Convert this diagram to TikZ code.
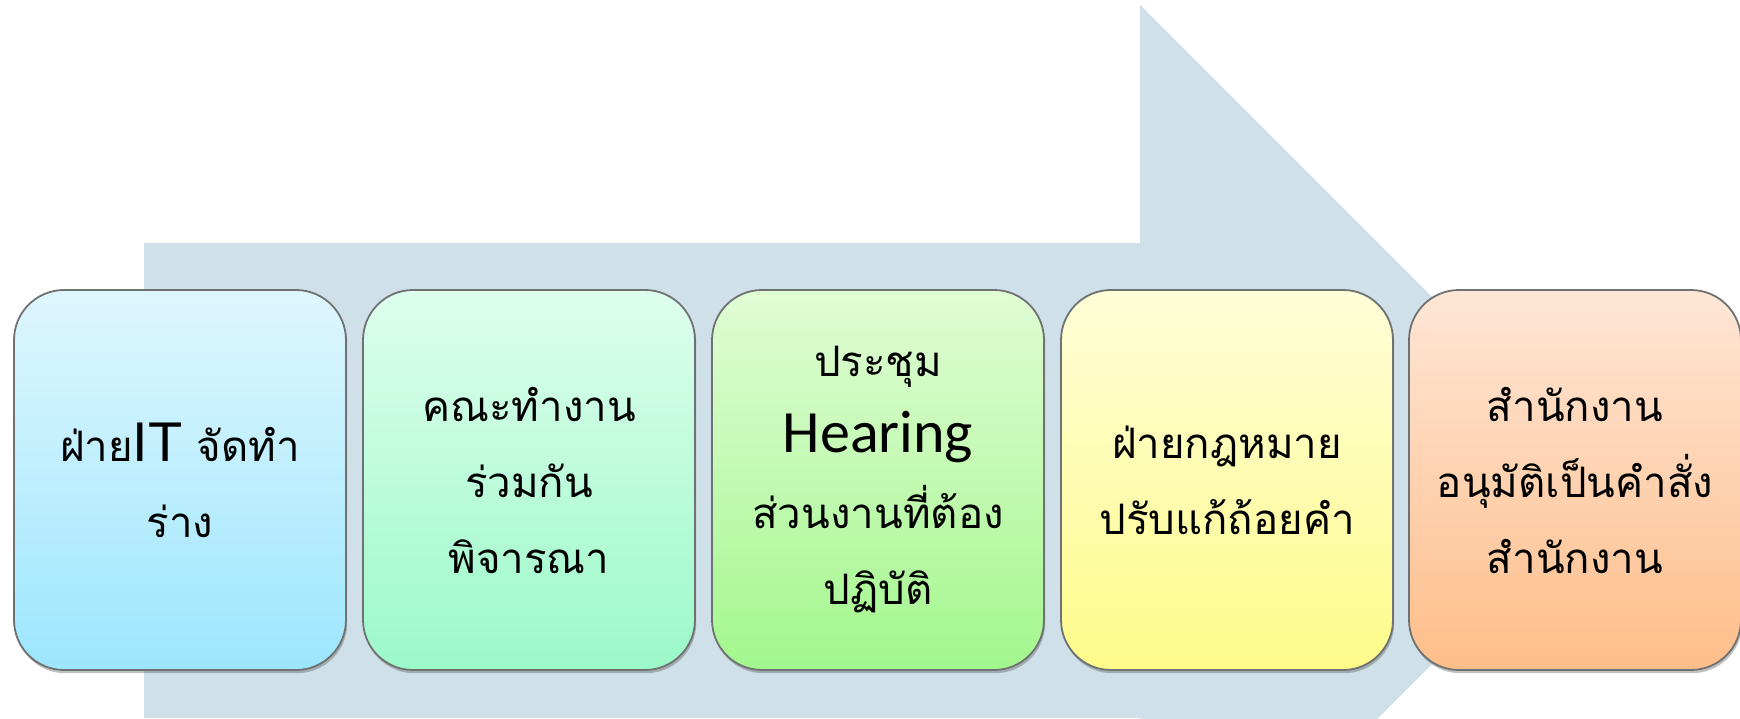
\documentclass[tikz,border=0pt]{standalone}
\usepackage{fontspec}
\newfontfamily\thaifont[Script=Thai]{Loma}
\newfontfamily\latinfont{Liberation Sans}
\newfontfamily\calfont{Carlito}
\usetikzlibrary{shadows}
\definecolor{arrowcol}{HTML}{CFE0E8}
\definecolor{boxline}{HTML}{6F7272}
\definecolor{ctopA}{HTML}{DEF6FE}\definecolor{cbotA}{HTML}{9DE6FD}
\definecolor{ctopB}{HTML}{DEFEEE}\definecolor{cbotB}{HTML}{9BF9C8}
\definecolor{ctopC}{HTML}{E0FCD4}\definecolor{cbotC}{HTML}{A3F78E}
\definecolor{ctopD}{HTML}{FEFED8}\definecolor{cbotD}{HTML}{FEFB8A}
\definecolor{ctopE}{HTML}{FEE6D6}\definecolor{cbotE}{HTML}{FEBE8A}
\tikzset{
  stepbox/.style={rectangle, rounded corners=25pt, minimum width=166pt, minimum height=190pt,
    draw=boxline, line width=0.9pt, align=center, inner sep=0pt,
    font=\thaifont\fontsize{21}{38}\selectfont,
    drop shadow={shadow xshift=0.6pt, shadow yshift=-1.6pt, opacity=0.35, fill=black!70}},
}
\begin{document}
\begin{tikzpicture}[x=0.5pt,y=-0.5pt]
\useasboundingbox (0,0) rectangle (1740,718);
\begin{scope}
\clip (0,0) rectangle (1740,718);
\fill[arrowcol] (144,243) -- (1140,243) -- (1140,5) -- (1615.5,480.5) -- (1140,956) -- (1140,718) -- (144,718) -- cycle;
\node[stepbox, top color=ctopA, bottom color=cbotA] (s1) at (180,480)
  {ฝ่าย{\latinfont\fontsize{28}{38}\selectfont IT} จัดทำ\\ร่าง};
\node[stepbox, top color=ctopB, bottom color=cbotB] (s2) at (529,480)
  {คณะทำงาน\\ร่วมกัน\\พิจารณา};
\node[stepbox, top color=ctopC, bottom color=cbotC] (s3) at (878,480)
  {ประชุม\\{\calfont\fontsize{30}{36}\selectfont Hearing}\\ส่วนงานที่ต้อง\\ปฏิบัติ};
\node[stepbox, top color=ctopD, bottom color=cbotD] (s4) at (1227,480)
  {ฝ่ายกฎหมาย\\ปรับแก้ถ้อยคำ};
\node[stepbox, top color=ctopE, bottom color=cbotE] (s5) at (1575,480)
  {สำนักงาน\\อนุมัติเป็นคำสั่ง\\สำนักงาน};
\end{scope}
\end{tikzpicture}
\end{document}
